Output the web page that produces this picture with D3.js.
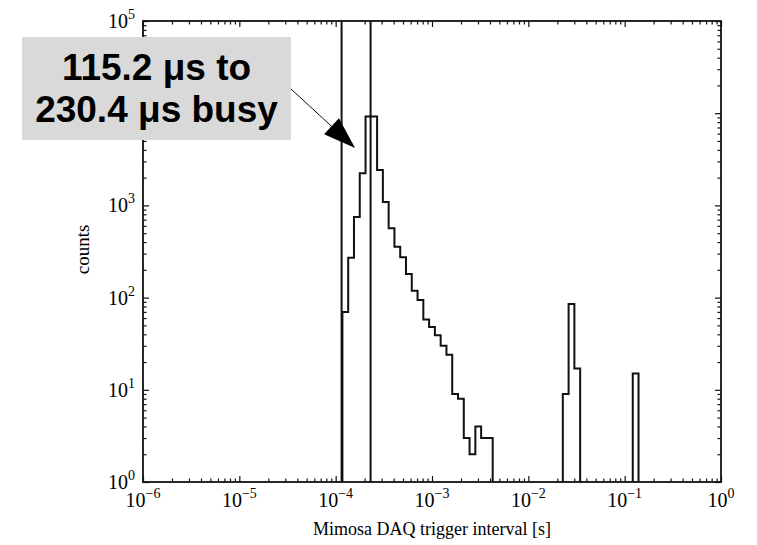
<!DOCTYPE html>
<html>
<head>
<meta charset="utf-8">
<script src="https://cdn.jsdelivr.net/npm/d3@7"></script>
<style>
  body { margin: 0; background: #fff; }
  text { fill: #000; }
</style>
</head>
<body>
<div id="chart"></div>
<script>
// Histogram data (log-spaced bins, 0.06 decade wide)
const binWidthDex = 0.06;
const peakStartExp = -3.93;
const peakCounts = [70, 270, 750, 2230, 9200, 9200, 2420, 1090, 565, 356, 274, 180, 119, 94, 58, 48, 39, 30, 24, 9, 8, 3, 2, 4, 3, 3];
const slowStartExp = -1.642;
const slowCounts = [9, 85, 17];
const lateStartExp = -0.916;
const lateCounts = [15];

// busy window markers [s]
const busyLines = [115.2e-6, 230.4e-6];

// tick values
const xDecades = [1e-6, 1e-5, 1e-4, 1e-3, 1e-2, 1e-1, 1];
const xExps = ["−6", "−5", "−4", "−3", "−2", "−1", "0"];
const yDecades = [1, 10, 100, 1000, 10000, 100000];
const yExps = ["0", "1", "2", "3", "4", "5"];
// the 10^4 label sits under the annotation box in the original
const yLabelShown = [true, true, true, true, false, true];

const annotationLines = ["115.2 μs to", "230.4 μs busy"];
const arrowTip = [1.59e-4, 4200];

const width = 757, height = 545;
const plot = { left: 143, right: 721, top: 21, bottom: 482 };

const svg = d3.select("#chart")
  .append("svg")
  .attr("width", width)
  .attr("height", height);

const x = d3.scaleLog().domain([1e-6, 1]).range([plot.left, plot.right]);
const y = d3.scaleLog().domain([1, 1e5]).range([plot.bottom, plot.top]);

// minor ticks 2..9 in each decade
function minors(domain) {
  const out = [];
  const lo = Math.round(Math.log10(domain[0])), hi = Math.round(Math.log10(domain[1]));
  for (let e = lo; e < hi; e++) {
    for (let m = 2; m <= 9; m++) out.push(m * Math.pow(10, e));
  }
  return out;
}

const serif = "'Liberation Serif', 'Times New Roman', serif";
const majorLen = 6, minorLen = 3.5;

function addAxis(axisFn, scale, transform, values, len) {
  const g = svg.append("g")
    .attr("transform", transform)
    .call(axisFn(scale).tickValues(values).tickSize(-len).tickSizeOuter(0).tickFormat(""));
  g.select(".domain").remove();
  g.selectAll(".tick line").attr("stroke", "#111").attr("stroke-width", 1.2);
}

[[d3.axisBottom, `translate(0,${plot.bottom})`], [d3.axisTop, `translate(0,${plot.top})`]].forEach(([fn, tr]) => {
  addAxis(fn, x, tr, xDecades, majorLen);
  addAxis(fn, x, tr, minors(x.domain()), minorLen);
});
[[d3.axisLeft, `translate(${plot.left},0)`], [d3.axisRight, `translate(${plot.right},0)`]].forEach(([fn, tr]) => {
  addAxis(fn, y, tr, yDecades, majorLen);
  addAxis(fn, y, tr, minors(y.domain()), minorLen);
});

// histogram outline
function segmentPoints(startExp, counts) {
  const pts = [[Math.pow(10, startExp), 1]];
  counts.forEach((c, i) => {
    pts.push([Math.pow(10, startExp + i * binWidthDex), c]);
    pts.push([Math.pow(10, startExp + (i + 1) * binWidthDex), c]);
  });
  pts.push([Math.pow(10, startExp + counts.length * binWidthDex), 1]);
  return pts;
}

const line = d3.line().x(d => x(d[0])).y(d => y(d[1]));
[[peakStartExp, peakCounts], [slowStartExp, slowCounts], [lateStartExp, lateCounts]].forEach(([s, c]) => {
  svg.append("path")
    .attr("d", line(segmentPoints(s, c)))
    .attr("fill", "none")
    .attr("stroke", "#111")
    .attr("stroke-width", 2);
});

// busy window lines
svg.selectAll(".busy")
  .data(busyLines)
  .enter()
  .append("line")
  .attr("class", "busy")
  .attr("x1", d => x(d)).attr("x2", d => x(d))
  .attr("y1", y(1e5)).attr("y2", y(1))
  .attr("stroke", "#111")
  .attr("stroke-width", 2);

// frame
svg.append("rect")
  .attr("x", plot.left).attr("y", plot.top)
  .attr("width", plot.right - plot.left).attr("height", plot.bottom - plot.top)
  .attr("fill", "none").attr("stroke", "#111").attr("stroke-width", 1.8);

// tick labels
const xl = svg.selectAll(".xlab")
  .data(xDecades)
  .enter()
  .append("text")
  .attr("class", "xlab")
  .attr("x", d => x(d))
  .attr("y", plot.bottom + 25)
  .attr("text-anchor", "middle")
  .style("font-family", serif)
  .style("font-size", "20px");
xl.append("tspan").text("10");
xl.append("tspan").attr("dy", -9).style("font-size", "14px").text((d, i) => xExps[i]);

const yl = svg.selectAll(".ylab")
  .data(yDecades.filter((d, i) => yLabelShown[i]))
  .enter()
  .append("text")
  .attr("class", "ylab")
  .attr("x", plot.left - 8)
  .attr("y", d => y(d) + 7)
  .attr("text-anchor", "end")
  .style("font-family", serif)
  .style("font-size", "20px");
yl.append("tspan").text("10");
yl.append("tspan").attr("dy", -9).style("font-size", "14px")
  .text(d => yExps[yDecades.indexOf(d)]);

// axis titles
svg.append("text")
  .attr("x", (plot.left + plot.right) / 2)
  .attr("y", 535)
  .attr("text-anchor", "middle")
  .style("font-family", serif)
  .style("font-size", "18px")
  .text("Mimosa DAQ trigger interval [s]");

svg.append("text")
  .attr("transform", `translate(89,${(plot.top + plot.bottom) / 2 - 2}) rotate(-90)`)
  .attr("text-anchor", "middle")
  .style("font-family", serif)
  .style("font-size", "19px")
  .text("counts");

// annotation box + arrow
const box = { x: 22, y: 37, w: 269, h: 103 };
svg.append("rect")
  .attr("x", box.x).attr("y", box.y)
  .attr("width", box.w).attr("height", box.h)
  .attr("fill", "#d9d9d9");

svg.selectAll(".note")
  .data(annotationLines)
  .enter()
  .append("text")
  .attr("class", "note")
  .attr("x", box.x + box.w / 2)
  .attr("y", (d, i) => 80 + i * 42)
  .attr("text-anchor", "middle")
  .style("font-family", "'Liberation Sans', Arial, sans-serif")
  .style("font-weight", "bold")
  .style("font-size", "37px")
  .text(d => d);

const start = [box.x + box.w, 89];
const tip = [x(arrowTip[0]), y(arrowTip[1])];
const dx = tip[0] - start[0], dy = tip[1] - start[1];
const len = Math.hypot(dx, dy);
const ux = dx / len, uy = dy / len;
const headLen = 32, headHalf = 11;
const base = [tip[0] - ux * headLen, tip[1] - uy * headLen];

svg.append("line")
  .attr("x1", start[0]).attr("y1", start[1])
  .attr("x2", base[0]).attr("y2", base[1])
  .attr("stroke", "#111").attr("stroke-width", 1);

svg.append("polygon")
  .attr("points", [
    tip,
    [base[0] - uy * headHalf, base[1] + ux * headHalf],
    [base[0] + uy * headHalf, base[1] - ux * headHalf]
  ].map(p => p.join(",")).join(" "))
  .attr("fill", "#000");
</script>
</body>
</html>
